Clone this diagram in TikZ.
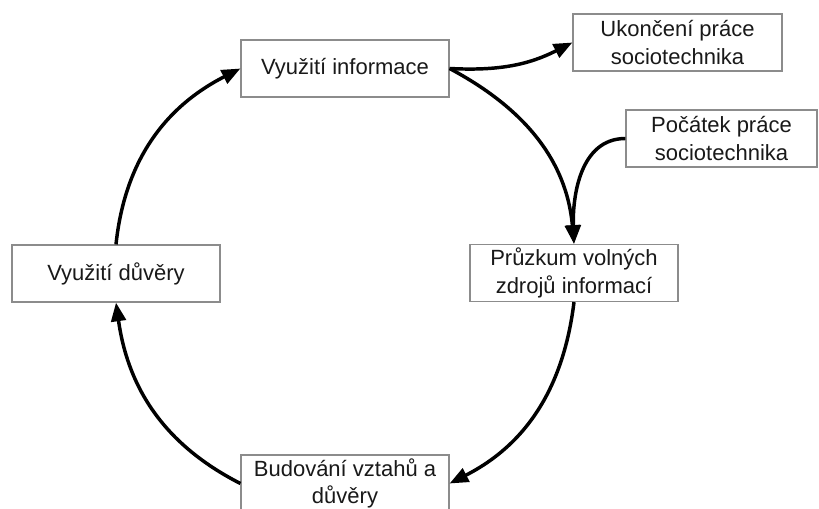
\documentclass[tikz,border=0pt]{standalone}
\usepackage{fontspec}
\setmainfont{Liberation Sans}
\usetikzlibrary{arrows.meta}
\begin{document}
\begin{tikzpicture}[x=0.75pt,y=-0.75pt,
  box/.style={draw=black!45, line width=0.9pt, fill=white, inner sep=0pt,
    minimum width=156pt, minimum height=42.75pt, align=center,
    text=black!90, font=\fontsize{16.5}{20.5}\selectfont},
  conn/.style={line width=2.6pt, -{Triangle[length=14pt,width=11pt]}}]
\clip (0,0) rectangle (819,509);
\fill[white] (0,0) rectangle (819,509);
% nodes
\node[box] (inf) at (345,68.5) {Využití informace};
\node[box, minimum width=156.75pt] (uk) at (677.5,42.5) {Ukončení práce\\sociotechnika};
\node[box, minimum width=143.25pt] (poc) at (721.5,138.5) {Počátek práce\\sociotechnika};
\node[box] (pr) at (574,273) {Průzkum volných\\zdrojů informací};
\node[box] (duv) at (116,273.5) {Využití důvěry};
\node[box] (bud) at (345,483.5) {Budování vztahů a\\důvěry};
% connectors
\draw[conn] (inf.east) to[out=-28, in=95] (pr.north);
\draw[conn] (poc.west) to[out=180, in=92] (pr.north);
\draw[conn] (inf.east) to[out=-3, in=207] (uk.west);
\draw[conn] (pr.south) to[out=-97, in=27] (bud.east);
\draw[conn] (bud.west) to[out=153, in=-82] (duv.south);
\draw[conn] (duv.north) to[out=84, in=207] (inf.west);
\end{tikzpicture}
\end{document}
